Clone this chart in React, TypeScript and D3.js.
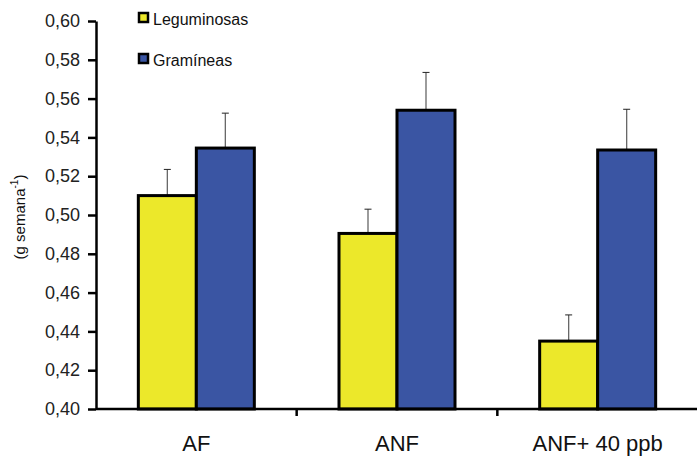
import React, { useEffect, useRef } from 'react';
import * as d3 from 'd3';

const categories = ['AF', 'ANF', 'ANF+ 40 ppb'];
const seriesNames = ['Leguminosas', 'Gramíneas'];
const leguminosas = [0.510, 0.4905, 0.435];
const leguminosasErr = [0.0135, 0.0125, 0.0135];
const gramineas = [0.5345, 0.554, 0.5335];
const gramineasErr = [0.018, 0.0195, 0.021];
const yTicks = [0.4, 0.42, 0.44, 0.46, 0.48, 0.5, 0.52, 0.54, 0.56, 0.58, 0.6];
const colors = ['#ECE82A', '#3A55A3'];

const App: React.FC = () => {
  const ref = useRef<SVGSVGElement | null>(null);

  useEffect(() => {
    const svg = d3.select(ref.current);
    svg.selectAll('*').remove();
    const font = 'Liberation Sans, Arial, sans-serif';

    const x = d3.scaleBand<string>().domain(categories).range([96, 698]);
    const inner = d3.scaleBand<string>().domain(seriesNames).range([0, 116]);
    const y = d3.scaleLinear().domain([0.4, 0.6]).range([409, 21]);

    const series = [
      { name: seriesNames[0], values: leguminosas, errs: leguminosasErr, color: colors[0] },
      { name: seriesNames[1], values: gramineas, errs: gramineasErr, color: colors[1] },
    ];

    const g = svg.append('g');
    series.forEach(s => {
      categories.forEach((c, i) => {
        const bx = (x(c) as number) + (x.bandwidth() - 116) / 2 + (inner(s.name) as number);
        const cx = bx + inner.bandwidth() / 2;
        // error bar
        g.append('line')
          .attr('x1', cx).attr('x2', cx)
          .attr('y1', y(s.values[i])).attr('y2', y(s.values[i] + s.errs[i]))
          .attr('stroke', '#666').attr('stroke-width', 1.3);
        g.append('line')
          .attr('x1', cx - 3.5).attr('x2', cx + 3.5)
          .attr('y1', y(s.values[i] + s.errs[i])).attr('y2', y(s.values[i] + s.errs[i]))
          .attr('stroke', '#222').attr('stroke-width', 1);
      });
    });
    series.forEach(s => {
      categories.forEach((c, i) => {
        const bx = (x(c) as number) + (x.bandwidth() - 116) / 2 + (inner(s.name) as number);
        g.append('rect')
          .attr('x', bx).attr('y', y(s.values[i]))
          .attr('width', inner.bandwidth()).attr('height', y(0.4) - y(s.values[i]))
          .attr('fill', s.color).attr('stroke', '#000').attr('stroke-width', 3);
      });
    });

    // y axis
    const ya = svg.append('g')
      .attr('transform', 'translate(96,0)')
      .call(d3.axisLeft(y).tickValues(yTicks).tickSize(8).tickSizeOuter(0).tickPadding(8)
        .tickFormat(d => d3.format('.2f')(d as number).replace('.', ',')));
    ya.select('.domain').attr('stroke', '#000').attr('stroke-width', 2.5);
    ya.selectAll('.tick line').attr('stroke', '#000').attr('stroke-width', 2.5);
    ya.selectAll('.tick text').attr('font-family', font).attr('font-size', 18).attr('fill', '#222');

    // x axis
    const xa = svg.append('g').attr('transform', 'translate(0,409)');
    xa.append('line').attr('x1', 96).attr('x2', 698).attr('y1', 0).attr('y2', 0)
      .attr('stroke', '#000').attr('stroke-width', 2.5);
    categories.forEach((c, i) => {
      if (i > 0) {
        xa.append('line').attr('x1', x(c) as number).attr('x2', x(c) as number)
          .attr('y1', 0).attr('y2', 7).attr('stroke', '#000').attr('stroke-width', 2.5);
      }
      xa.append('text')
        .attr('x', (x(c) as number) + x.bandwidth() / 2)
        .attr('y', 42)
        .attr('text-anchor', 'middle')
        .attr('font-family', font).attr('font-size', 22).attr('fill', '#111')
        .text(c);
    });

    // y label
    const yl = svg.append('text')
      .attr('transform', 'translate(25,217) rotate(-90)')
      .attr('text-anchor', 'middle')
      .attr('font-family', font).attr('font-size', 15).attr('fill', '#111');
    yl.append('tspan').text('(g semana');
    yl.append('tspan').attr('font-size', 10).attr('dy', -7).text('-1');
    yl.append('tspan').attr('dy', 7).text(')');

    // legend
    series.forEach((s, i) => {
      const ly = 13 + i * 41;
      svg.append('rect').attr('x', 139).attr('y', ly).attr('width', 9).attr('height', 9)
        .attr('fill', s.color).attr('stroke', '#000').attr('stroke-width', 2.5);
      svg.append('text').attr('x', 153).attr('y', ly + 12)
        .attr('font-family', font).attr('font-size', 16).attr('fill', '#111')
        .text(s.name);
    });
  }, []);

  return (
    <div style={{ position: 'absolute', left: 0, top: 0 }}>
      <svg ref={ref} width={697} height={457} style={{ display: 'block' }}></svg>
    </div>
  );
};

export default App;
